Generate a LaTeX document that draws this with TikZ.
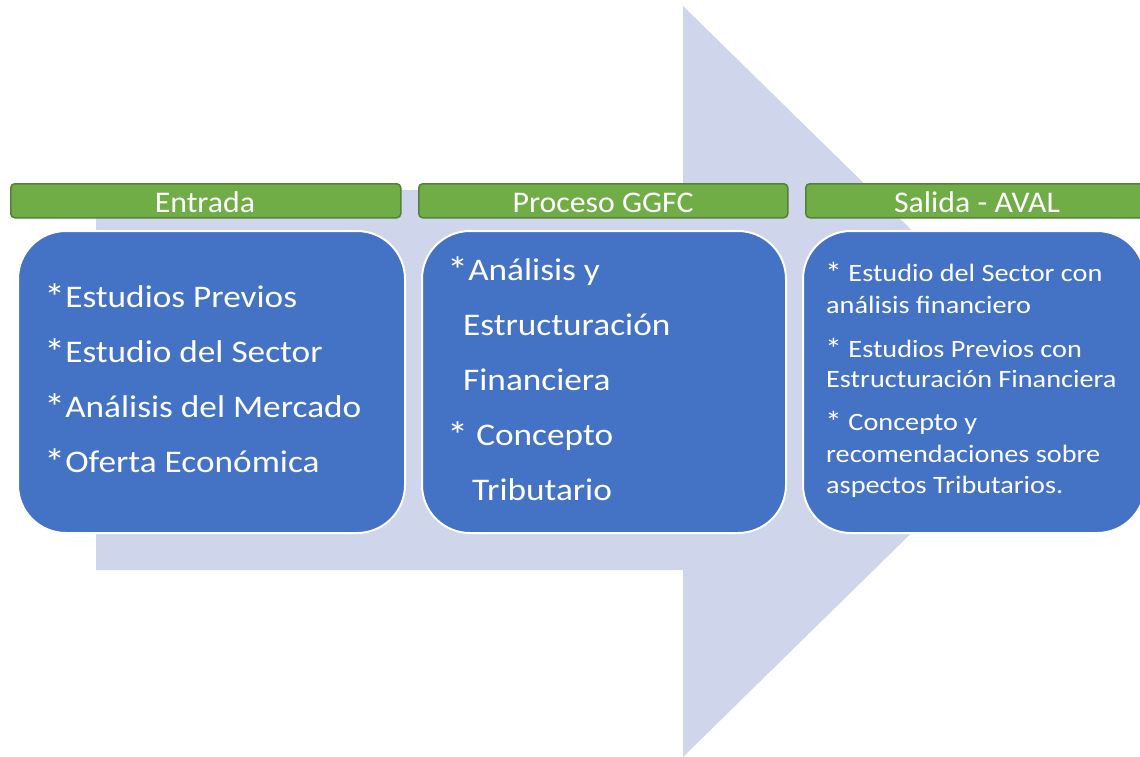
\documentclass[tikz,border=0pt]{standalone}
\usepackage{fontspec}
\usepackage{graphicx}
\setmainfont{Carlito}
\newfontfamily\barfont[FakeStretch=1.06]{Carlito}
\newfontfamily\bigfont[FakeStretch=1.12]{Carlito}
\newfontfamily\smallfont[FakeStretch=1.13]{Carlito}
\newcommand\bigast{\raisebox{-0.1em}{\scalebox{1.2}{*}}}
\definecolor{arrowc}{HTML}{CFD5EA}
\definecolor{barc}{HTML}{70AD47}
\definecolor{barborder}{HTML}{548235}
\definecolor{boxc}{HTML}{4472C4}
\begin{document}
\begin{tikzpicture}[x=1pt,y=-1pt,
  bar/.style={draw=barborder, line width=1.5pt, fill=barc, rounded corners=4pt, minimum height=34pt, inner sep=0pt, anchor=north west},
  bluebox/.style={draw=white, line width=2pt, fill=boxc, rounded corners=48pt, minimum height=302pt, inner sep=0pt, anchor=north west},
  bartext/.style={text=white, font=\barfont\fontsize{30}{34}\selectfont, anchor=base, inner sep=0pt},
  bigline/.style={text=white, font=\bigfont\fontsize{31.5}{40}\selectfont, anchor=base west, inner sep=0pt},
  smallline/.style={text=white, font=\smallfont\fontsize{25}{30}\selectfont, anchor=base west, inner sep=0pt}
]
\useasboundingbox (0,0) rectangle (1140,757);
\clip (0,0) rectangle (1140,757);
% big background arrow
\fill[arrowc] (96,190) -- (683,190) -- (683,6) -- (1066,381.5) -- (683,757) -- (683,570) -- (96,570) -- cycle;
% green title bars
\node[bar, minimum width=390pt] (bar1) at (10,183) {};
\node[bar, minimum width=369pt] (bar2) at (418,183) {};
\node[bar, minimum width=344pt] (bar3) at (805,183) {};
\node[bartext] (t1) at (205,212) {Entrada};
\node[bartext] (t2) at (603,212) {Proceso GGFC};
\node[bartext] (t3) at (977,212) {Salida - AVAL};
% blue boxes
\node[bluebox, minimum width=387pt] (box1) at (17,230) {};
\node[bluebox, minimum width=364pt] (box2) at (421,230) {};
\node[bluebox, minimum width=342pt] (box3) at (802,230) {};
% box 1 text
\node[bigline] (a1) at (44,307) {\bigast Estudios Previos};
\node[bigline] (a2) at (44,362) {\bigast Estudio del Sector};
\node[bigline] (a3) at (44,417) {\bigast Análisis del Mercado};
\node[bigline] (a4) at (44,472) {\bigast Oferta Económica};
% box 2 text
\node[bigline] (b1) at (447,280) {\bigast Análisis y};
\node[bigline] (b2) at (463,335) {Estructuración};
\node[bigline] (b3) at (463,390) {Financiera};
\node[bigline] (b4) at (447,445) {\bigast{} Concepto};
\node[bigline] (b5) at (472,500) {Tributario};
% box 3 text
\node[smallline] (c1) at (825,281) {\bigast{} Estudio del Sector con};
\node[smallline] (c2) at (826,313) {análisis financiero};
\node[smallline] (c3) at (825,357) {\bigast{} Estudios Previos con};
\node[smallline] (c4) at (826,387) {Estructuración Financiera};
\node[smallline] (c5) at (825,430) {\bigast{} Concepto y};
\node[smallline] (c6) at (826,462) {recomendaciones sobre};
\node[smallline] (c7) at (826,493) {aspectos Tributarios.};
\end{tikzpicture}
\end{document}
